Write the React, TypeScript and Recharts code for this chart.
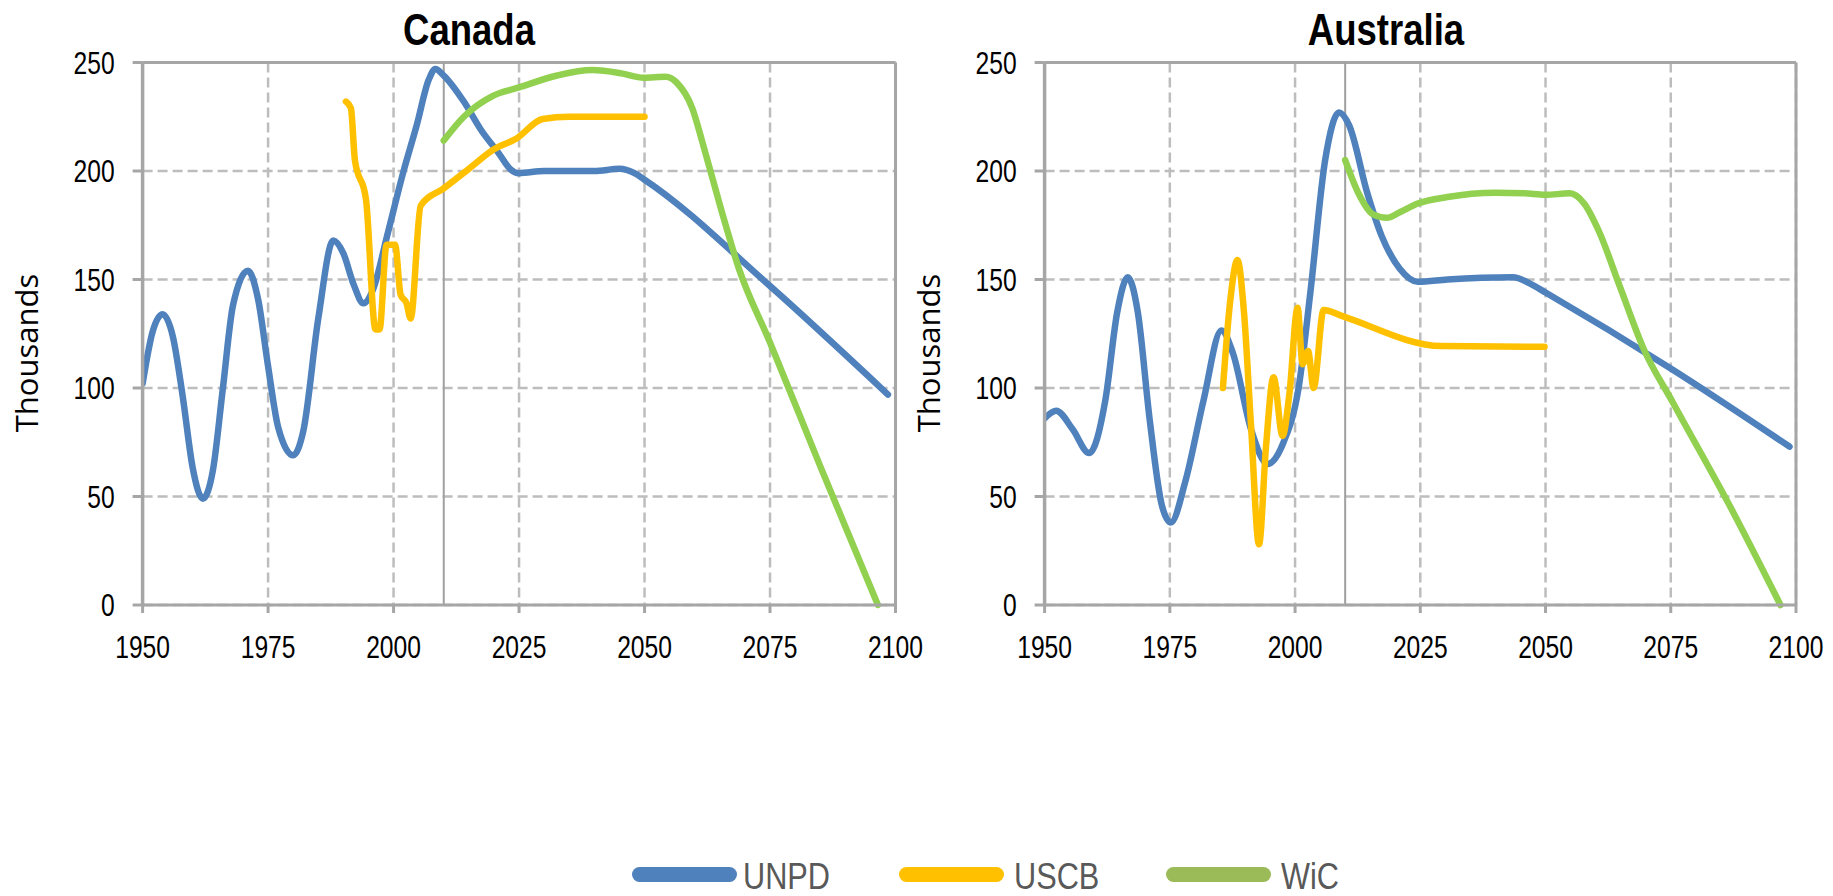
import { LineChart, Line, XAxis, YAxis, CartesianGrid, ReferenceLine } from "recharts";

type Pair = [number, number];

const yearTicks = [1950, 1975, 2000, 2025, 2050, 2075, 2100];
const valueTicks = [0, 50, 100, 150, 200, 250];

// Canada, thousands
const canadaUNPD: Pair[] = [
  [1950, 102], [1952, 126], [1954, 134], [1956, 124], [1958, 96], [1960, 63], [1962, 49],
  [1964, 62], [1966, 100], [1968, 138], [1971, 154], [1973, 141], [1975, 110], [1977, 82],
  [1980, 69], [1982, 80], [1985, 132], [1988, 168], [1990, 162], [1992, 148], [1994, 139],
  [1996, 146], [1998.7, 170], [2002, 200], [2004.6, 221], [2007, 242], [2008.3, 247],
  [2010, 244], [2014, 232], [2017.4, 219], [2021, 208], [2023.2, 201], [2025, 199],
  [2030, 200], [2040, 200], [2045, 201], [2048, 199], [2050, 196], [2075, 147], [2098.5, 97],
];
const canadaUSCB: Pair[] = [
  [1990.5, 232], [1991.5, 229], [1992.3, 205], [1994.5, 187], [1996.4, 127], [1997.2, 127],
  [1998.6, 166], [2000.3, 166], [2001.4, 143], [2002.6, 139], [2003.4, 132], [2005.4, 184],
  [2010, 192], [2015, 201], [2020, 210], [2024.5, 215], [2029.7, 224], [2035, 225], [2050, 225],
];
const canadaWiC: Pair[] = [
  [2010, 214], [2014, 225], [2019.7, 234.5], [2025, 238.5], [2032.6, 244], [2039.6, 246.5],
  [2045.4, 245], [2049.8, 243], [2054.2, 243.4], [2056.5, 240.5], [2059.5, 229], [2061.8, 211],
  [2065.3, 182], [2068.8, 155], [2075, 121], [2085, 64], [2096.5, 0],
];

// Australia, thousands
const australiaUNPD: Pair[] = [
  [1950, 86], [1952.3, 89.5], [1955.6, 81], [1958.9, 70], [1962.1, 94], [1964.5, 135],
  [1966.6, 151], [1968.6, 135], [1971, 85], [1973.4, 46], [1975.2, 38], [1978.1, 57],
  [1981.7, 94], [1985.3, 126.5], [1987.6, 116], [1991.2, 81], [1994.5, 65], [1997.7, 75],
  [2000.7, 100], [2003.1, 145], [2006, 205], [2008.8, 227], [2010.8, 221], [2014.4, 190],
  [2017.3, 170], [2020.9, 155], [2024.5, 149], [2030.4, 150], [2043.5, 151], [2047, 148],
  [2050, 144], [2075, 109], [2098.7, 73],
];
const australiaUSCB: Pair[] = [
  [1985.6, 100], [1987, 139], [1988.5, 159], [1989.8, 135], [1991.2, 83], [1992.8, 28],
  [1994.2, 73], [1995.7, 105], [1997.5, 78], [1998.9, 98], [2000.5, 137], [2001.5, 111],
  [2002.6, 117], [2003.7, 100], [2005.7, 136], [2009.6, 133], [2029.2, 119.3], [2049.8, 119],
];
const australiaWiC: Pair[] = [
  [2010, 205], [2012.6, 190], [2015.6, 180], [2018.3, 178.4], [2020.9, 181], [2024.5, 185],
  [2030.4, 188], [2039.9, 190], [2045.8, 189.7], [2050, 189], [2054.8, 189.7], [2057.7, 185],
  [2060.7, 172], [2064.8, 147], [2069.6, 118], [2075.5, 93], [2087.4, 43], [2096.9, 0],
];

const seriesNames = ["UNPD", "USCB", "WiC"];
const lineColors = ["#4F81BD", "#FFC000", "#92D050"];
const legendColors = ["#4F81BD", "#FFC000", "#9BBB59"];

const sans = "'Liberation Sans', Arial, sans-serif";
const frame = "#a6a6a6";

const toRows = (pairs: Pair[]) => pairs.map(([year, v]) => ({ year, v }));

// Arial Narrow look: Liberation Sans squeezed horizontally
function NarrowTick(props: any) {
  const { x, y, payload, textAnchor, vertical } = props;
  return (
    <g transform={`translate(${x},${y})`}>
      <text
        transform="scale(0.77,1)"
        textAnchor={textAnchor}
        dy={vertical ? "0.355em" : "0.71em"}
        fill="#000"
        fontSize={32}
        fontFamily={sans}
      >
        {payload.value}
      </text>
    </g>
  );
}

type ChartProps = {
  title: string;
  titleX: number;
  labelX: number;
  left: number;
  width: number;
  marginLeft: number;
  marginRight: number;
  series: Pair[][];
};

function CountryChart({ title, titleX, labelX, left, width, marginLeft, marginRight, series }: ChartProps) {
  return (
    <>
      <div
        style={{
          position: "absolute",
          left: titleX,
          top: 8,
          transform: "translateX(-50%) scaleX(0.83)",
          fontFamily: sans,
          fontWeight: "bold",
          fontSize: 44,
          lineHeight: "44px",
          whiteSpace: "nowrap",
        }}
      >
        {title}
      </div>
      <div
        style={{
          position: "absolute",
          left: labelX,
          top: 353,
          transform: "translate(-50%, -50%) rotate(-90deg)",
          fontFamily: "'Open Sans', sans-serif",
          fontSize: 31,
          lineHeight: "31px",
          whiteSpace: "nowrap",
        }}
      >
        Thousands
      </div>
      <div style={{ position: "absolute", left, top: 0 }}>
        <LineChart
          width={width}
          height={700}
          margin={{ top: 62.5, right: marginRight, bottom: 35, left: marginLeft }}
        >
          <CartesianGrid stroke="#bdbdbd" strokeWidth={2.5} strokeDasharray="10 5" />
          <XAxis
            dataKey="year"
            type="number"
            domain={[1950, 2100]}
            ticks={yearTicks}
            allowDataOverflow
            height={60}
            tick={(p: any) => <NarrowTick {...p} />}
            tickSize={8}
            tickMargin={22}
            axisLine={{ stroke: frame, strokeWidth: 3 }}
            tickLine={{ stroke: frame, strokeWidth: 3 }}
          />
          <YAxis
            type="number"
            domain={[0, 250]}
            ticks={valueTicks}
            width={100}
            tick={(p: any) => <NarrowTick {...p} vertical />}
            tickSize={10}
            tickMargin={18}
            axisLine={{ stroke: frame, strokeWidth: 3.5 }}
            tickLine={{ stroke: frame, strokeWidth: 3 }}
          />
          <ReferenceLine y={250} stroke={frame} strokeWidth={3} />
          <ReferenceLine x={2100} stroke={frame} strokeWidth={3} />
          <ReferenceLine x={2010} stroke="#a0a0a0" strokeWidth={2} />
          {series.map((pairs, i) => (
            <Line
              key={seriesNames[i]}
              data={toRows(pairs)}
              dataKey="v"
              name={seriesNames[i]}
              type="monotone"
              stroke={lineColors[i]}
              strokeWidth={6.5}
              strokeLinecap="round"
              dot={false}
              activeDot={false}
              isAnimationActive={false}
            />
          ))}
        </LineChart>
      </div>
    </>
  );
}

const legendSymbolX = [632, 899, 1166];
const legendTextX = [743, 1014, 1281];

export default function App() {
  return (
    <div style={{ position: "absolute", left: 0, top: 0, width: 1833, height: 896, background: "#fff", overflow: "hidden" }}>
      <CountryChart
        title="Canada"
        titleX={469}
        labelX={26}
        left={0}
        width={940}
        marginLeft={42.6}
        marginRight={44.5}
        series={[canadaUNPD, canadaUSCB, canadaWiC]}
      />
      <CountryChart
        title="Australia"
        titleX={1386}
        labelX={928}
        left={900}
        width={933}
        marginLeft={44.6}
        marginRight={37}
        series={[australiaUNPD, australiaUSCB, australiaWiC]}
      />
      {seriesNames.map((name, i) => (
        <div key={name}>
          <div
            style={{
              position: "absolute",
              left: legendSymbolX[i],
              top: 867,
              width: 105,
              height: 15,
              borderRadius: 8,
              background: legendColors[i],
            }}
          />
          <div
            style={{
              position: "absolute",
              left: legendTextX[i],
              top: 856,
              transform: "scaleX(0.83)",
              transformOrigin: "left center",
              fontFamily: sans,
              fontSize: 37,
              lineHeight: "41px",
              color: "#595959",
              whiteSpace: "nowrap",
            }}
          >
            {name}
          </div>
        </div>
      ))}
    </div>
  );
}
